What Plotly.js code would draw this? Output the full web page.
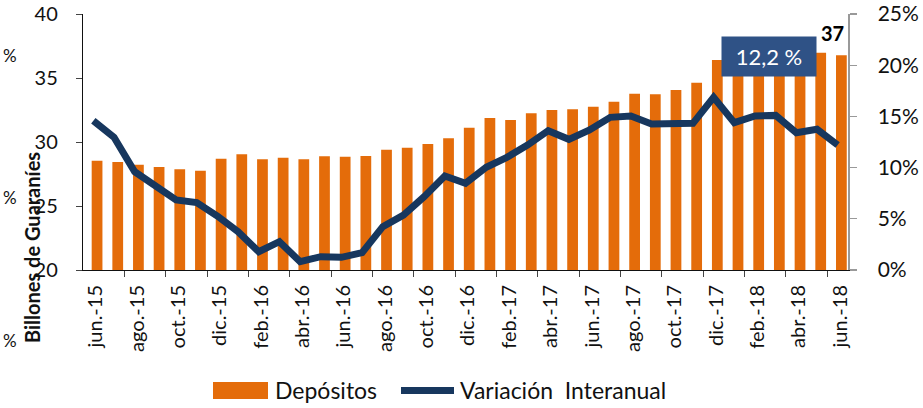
<!DOCTYPE html>
<html>
<head>
<meta charset="utf-8">
<script src="https://cdn.plot.ly/plotly-3.0.1.min.js"></script>
<style>
html,body{margin:0;padding:0;background:#fff;}
#chart{width:923px;height:408px;}
</style>
</head>
<body>
<div id="chart"></div>
<script>
// ---- Data ----
const months = [
  "jun.-15","jul.-15","ago.-15","sep.-15","oct.-15","nov.-15","dic.-15",
  "ene.-16","feb.-16","mar.-16","abr.-16","may.-16","jun.-16","jul.-16",
  "ago.-16","sep.-16","oct.-16","nov.-16","dic.-16","ene.-17","feb.-17",
  "mar.-17","abr.-17","may.-17","jun.-17","jul.-17","ago.-17","sep.-17",
  "oct.-17","nov.-17","dic.-17","ene.-18","feb.-18","mar.-18","abr.-18",
  "may.-18","jun.-18"
];
const depositos = [
  28.54, 28.44, 28.23, 28.05, 27.87, 27.76, 28.70, 29.04, 28.65, 28.77,
  28.65, 28.88, 28.85, 28.91, 29.40, 29.56, 29.85, 30.30, 31.12, 31.88,
  31.72, 32.24, 32.50, 32.55, 32.76, 33.15, 33.77, 33.73, 34.06, 34.63,
  36.41, 36.50, 36.60, 36.60, 36.80, 36.98, 36.77
];
const variacion = [
  14.58, 12.96, 9.60, 8.30, 6.84, 6.58, 5.27, 3.74, 1.79, 2.77,
  0.81, 1.30, 1.24, 1.69, 4.23, 5.37, 7.16, 9.18, 8.46, 10.03,
  11.00, 12.20, 13.60, 12.76, 13.67, 14.91, 15.04, 14.26, 14.26, 14.32,
  16.86, 14.39, 15.04, 15.10, 13.41, 13.74, 12.20
];
const leftTicks = [20, 25, 30, 35, 40];
const rightTicks = [0, 5, 10, 15, 20, 25];
const rightTickText = ["0%", "5%", "10%", "15%", "20%", "25%"];
const lastDepLabel = "37";
const lastVarLabel = "12,2 %";

// ---- Layout helpers ----
const W = 923, H = 408;
const mL = 83, mR = 75, mT = 14, mB = 138;
const pw = W - mL - mR, ph = H - mT - mB;
const px = x => (x - mL) / pw;
const py = y => (H - mB - y) / ph;

const idx = months.map((_, i) => i);
const labelIdx = idx.filter(i => i % 2 === 0);
const boundaryIdx = labelIdx.slice(1).map(i => i - 0.5);

const FONT = "Lato, 'Open Sans', sans-serif";
const ORANGE = "#E46C0A";
const NAVY = "#17375E";

const traces = [
  {
    type: "bar",
    x: idx,
    y: depositos,
    name: "Depósitos",
    marker: {color: ORANGE},
    width: 0.52,
    offset: -0.08,
    hoverinfo: "skip",
    showlegend: false
  },
  {
    type: "scatter",
    mode: "lines",
    x: idx,
    y: variacion,
    name: "Variación  Interanual",
    yaxis: "y2",
    line: {color: NAVY, width: 7, shape: "linear"},
    hoverinfo: "skip",
    showlegend: false,
    cliponaxis: false
  },
  // invisible trace so the label axis renders
  {type: "scatter", mode: "markers", x: [0], y: [30], xaxis: "x2",
   marker: {opacity: 0}, hoverinfo: "skip", showlegend: false}
];

const ann = (x, y, text, font, extra) => Object.assign({
  xref: "paper", yref: "paper", x: px(x), y: py(y),
  xanchor: "center", yanchor: "middle", text: text, showarrow: false, font: font
}, extra || {});

const layout = {
  width: W, height: H,
  margin: {l: mL, r: mR, t: mT, b: mB, pad: 0},
  paper_bgcolor: "#ffffff",
  plot_bgcolor: "rgba(0,0,0,0)",
  font: {family: FONT, color: "#111", size: 19},
  showlegend: false,
  xaxis: {
    range: [-0.5, 36.5],
    showgrid: false, zeroline: false,
    tickmode: "array",
    tickvals: boundaryIdx,
    ticks: "outside", ticklen: 6, tickwidth: 1, tickcolor: "#444",
    showticklabels: false,
    showline: true, linecolor: "#111", linewidth: 1.2,
    fixedrange: true
  },
  xaxis2: {
    overlaying: "x",
    range: [-0.5, 36.5],
    showgrid: false, zeroline: false,
    tickmode: "array",
    tickvals: labelIdx.map(i => i + 0.12),
    ticktext: labelIdx.map(i => months[i]),
    tickangle: -90,
    ticks: "",
    ticklabelstandoff: 10,
    tickfont: {family: FONT, size: 20, color: "#111"},
    showline: false,
    anchor: "y",
    side: "bottom"
  },
  yaxis: {
    range: [20, 40],
    tickmode: "array",
    tickvals: leftTicks,
    ticks: "outside", ticklen: 6, tickwidth: 1, tickcolor: "#444",
    showgrid: false, zeroline: false,
    showline: true, linecolor: "#111", linewidth: 1.2,
    ticklabelstandoff: 14,
    tickfont: {family: FONT, size: 20, color: "#111"}
  },
  yaxis2: {
    range: [0, 25],
    overlaying: "y",
    side: "right",
    tickmode: "array",
    tickvals: rightTicks,
    ticktext: rightTickText,
    ticks: "outside", ticklen: 7, tickwidth: 1.2, tickcolor: "#999",
    showgrid: false, zeroline: false,
    showline: true, linecolor: "#999", linewidth: 1.5,
    ticklabelstandoff: 17,
    tickfont: {family: FONT, size: 21, color: "#111"}
  },
  shapes: [
    {type: "rect", xref: "paper", yref: "paper",
     x0: px(213), x1: px(268), y0: py(399), y1: py(382),
     fillcolor: ORANGE, line: {width: 0}},
    {type: "line", xref: "paper", yref: "paper",
     x0: px(401), x1: px(454), y0: py(390.5), y1: py(390.5),
     line: {color: NAVY, width: 7}}
  ],
  annotations: [
    ann(32, 248, "<b>Billones de Guaraníes</b>", {family: FONT, size: 20, color: "#111"}, {textangle: -90}),
    ann(273, 390, "Depósitos", {family: FONT, size: 23, color: "#111"}, {xanchor: "left"}),
    ann(458, 390, "Variación  Interanual", {family: FONT, size: 23, color: "#111"}, {xanchor: "left"}),
    {xref: "x", yref: "y", x: idx[idx.length - 1], y: depositos[depositos.length - 1],
     xanchor: "center", yanchor: "bottom", xshift: -5, yshift: 8,
     text: "<b>" + lastDepLabel + "</b>", showarrow: false,
     font: {family: FONT, size: 20, color: "#000"}},
    ann(769, 56, lastVarLabel, {family: FONT, size: 22, color: "#ffffff"},
        {bgcolor: "#2F5286", width: 92, height: 37}),
    ann(1, 55, "%", {family: FONT, size: 17, color: "#111"}, {xanchor: "left"}),
    ann(1, 197, "%", {family: FONT, size: 17, color: "#111"}, {xanchor: "left"}),
    ann(1, 340, "%", {family: FONT, size: 17, color: "#111"}, {xanchor: "left"})
  ]
};

Plotly.newPlot("chart", traces, layout, {staticPlot: true, displayModeBar: false});
</script>
</body>
</html>
